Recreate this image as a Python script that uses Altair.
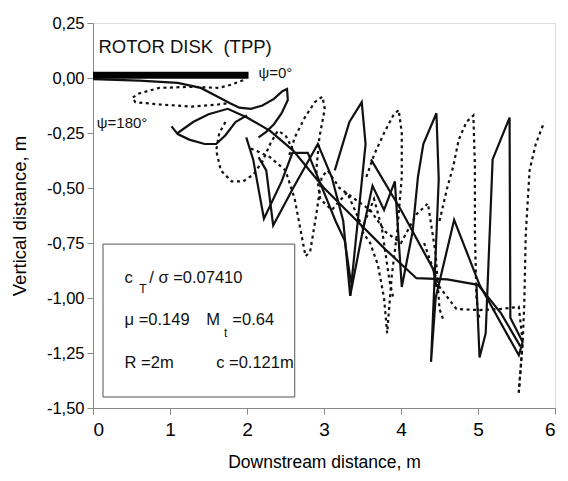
import altair as alt
import pandas as pd

FONT = "Liberation Sans, Arial, sans-serif"

# ---- data (x = downstream distance m, y = vertical distance m) ----
disk_x = [0.0, 2.02]
disk_y = [0.012, 0.012]

# solid curves
sA_x = [0.0, 0.6, 1.1, 1.4, 1.62, 1.78, 1.9, 2.05, 2.2, 2.35, 2.46, 2.52, 2.53, 2.45, 2.35, 2.25, 2.15]
sA_y = [-0.005, -0.012, -0.022, -0.045, -0.085, -0.115, -0.135, -0.14, -0.125, -0.095, -0.06, -0.05, -0.1, -0.16, -0.21, -0.245, -0.27]

sB_x = [1.02, 1.1, 1.25, 1.45, 1.6, 1.72, 1.85, 2.0]
sB_y = [-0.22, -0.255, -0.28, -0.30, -0.30, -0.26, -0.2, -0.17]

sC_x = [1.1, 1.3, 1.5, 1.75, 2.0, 2.3, 2.6, 3.0, 3.4, 3.8, 4.2, 4.6, 5.0, 5.3, 5.55]
sC_y = [-0.25, -0.2, -0.165, -0.14, -0.18, -0.24, -0.33, -0.5, -0.64, -0.78, -0.91, -0.915, -0.94, -1.07, -1.22]

sD_x = [1.99, 2.08, 2.22, 2.45, 2.59, 2.79, 3.0, 3.15, 3.27, 3.35]
sD_y = [-0.27, -0.37, -0.64, -0.47, -0.34, -0.34, -0.52, -0.65, -0.74, -0.93]

sE_x = [2.15, 2.25, 2.34, 2.6, 2.92, 3.1, 3.25, 3.34, 3.5, 3.63, 3.78, 3.92, 4.01, 4.15, 4.22, 4.29, 4.46, 4.49, 4.45, 4.39, 4.45, 4.69, 5.02, 5.53, 5.58]
sE_y = [-0.36, -0.42, -0.67, -0.5, -0.3, -0.45, -0.65, -0.99, -0.7, -0.49, -0.6, -0.47, -0.95, -0.7, -0.45, -0.3, -0.16, -0.46, -0.8, -1.29, -1.0, -0.645, -0.94, -1.26, -1.2]

sF_x = [3.14, 3.33, 3.49, 3.54, 3.34]
sF_y = [-0.42, -0.2, -0.11, -0.3, -0.99]

sG_x = [3.61, 4.0, 4.42, 4.46]
sG_y = [-0.37, -0.6, -0.87, -0.95]

sH_x = [4.98, 5.02, 5.1, 5.19, 5.41, 5.42, 5.58]
sH_y = [-0.94, -1.27, -1.16, -0.37, -0.18, -1.09, -1.2]

# dashed curves
d1_x = [1.95, 1.8, 1.63, 1.28, 0.86, 0.6, 0.51, 0.55, 0.86, 1.28, 1.63, 1.75]
d1_y = [-0.01, -0.03, -0.045, -0.04, -0.045, -0.07, -0.09, -0.11, -0.12, -0.13, -0.12, -0.115]

d2_x = [1.72, 1.64, 1.6, 1.66, 1.8, 1.95, 2.08, 2.2, 2.3, 2.4, 2.5, 2.6]
d2_y = [-0.2, -0.25, -0.33, -0.42, -0.47, -0.47, -0.44, -0.38, -0.3, -0.24, -0.26, -0.33]

d3_x = [2.05, 2.3, 2.5, 2.62, 2.7, 2.76, 2.82, 2.9, 2.97, 3.05, 3.2, 3.4, 3.6, 3.8, 4.0, 4.2, 4.35, 4.45, 4.5, 4.55]
d3_y = [-0.32, -0.36, -0.42, -0.55, -0.7, -0.81, -0.79, -0.62, -0.45, -0.42, -0.5, -0.55, -0.6, -0.7, -0.75, -0.62, -0.57, -0.8, -1.05, -1.1]

d4_x = [2.55, 2.62, 2.75, 2.88, 2.98, 3.01, 2.94, 2.9, 2.95, 3.1, 3.3, 3.5, 3.65, 3.75, 3.85, 3.9]
d4_y = [-0.35, -0.27, -0.18, -0.11, -0.085, -0.14, -0.27, -0.42, -0.55, -0.6, -0.52, -0.68, -0.55, -0.68, -0.92, -1.0]

d5_x = [3.55, 3.65, 3.78, 3.9, 3.97, 4.01, 4.01, 3.95, 3.88, 3.82, 3.78, 3.7, 3.6, 3.5]
d5_y = [-0.45, -0.35, -0.25, -0.17, -0.145, -0.25, -0.45, -0.7, -0.9, -1.16, -1.0, -0.85, -0.75, -0.7]

d6_x = [4.5, 4.6, 4.68, 4.75, 4.85, 4.94, 4.96, 4.96, 4.98, 5.02]
d6_y = [-0.65, -0.5, -0.4, -0.28, -0.2, -0.17, -0.4, -0.7, -1.0, -1.1]

d7_x = [4.3, 4.5, 4.72, 5.02, 5.3, 5.53, 5.58, 5.53]
d7_y = [-0.75, -0.95, -1.05, -1.055, -1.05, -1.04, -1.2, -1.43]

d8_x = [5.53, 5.58, 5.6, 5.62, 5.67, 5.75, 5.86]
d8_y = [-1.43, -1.2, -1.04, -0.71, -0.42, -0.3, -0.2]

solid = [(sA_x, sA_y), (sB_x, sB_y), (sC_x, sC_y), (sD_x, sD_y), (sE_x, sE_y),
         (sF_x, sF_y), (sG_x, sG_y), (sH_x, sH_y)]
dashed = [(d1_x, d1_y), (d2_x, d2_y), (d3_x, d3_y), (d4_x, d4_y), (d5_x, d5_y),
          (d6_x, d6_y), (d7_x, d7_y), (d8_x, d8_y)]

y_ticks = [0.25, 0.0, -0.25, -0.5, -0.75, -1.0, -1.25, -1.5]
x_ticks = [0, 1, 2, 3, 4, 5, 6]

box_x = [0.13, 2.62]
box_y = [-0.755, -1.45]

ann_text = ["ROTOR DISK \u00a0(TPP)", "\u03c8=0\u00b0", "\u03c8=180\u00b0",
            "c", "T", "/ \u03c3 =0.07410", "\u03bc =0.149", "M", "t", "=0.64",
            "R =2m", "c =0.121m"]
ann_x = [0.07, 2.15, 0.05, 0.41, 0.6, 0.73, 0.41, 1.47, 1.7, 1.81, 0.41, 1.6]
ann_y = [0.141, 0.025, -0.205, -0.907, -0.96, -0.907, -1.10, -1.10, -1.16, -1.10, -1.295, -1.295]
ann_size = [18.5, 15, 15, 16.5, 12, 16.5, 16.5, 16.5, 12, 16.5, 16.5, 16.5]

# ---- build tables ----
rows = []
for i, (xs_, ys_) in enumerate(solid):
    for j, (a, b) in enumerate(zip(xs_, ys_)):
        rows.append({"sid": f"s{i}", "o": j, "x": a, "y": b})
df_s = pd.DataFrame(rows)
rows = []
for i, (xs_, ys_) in enumerate(dashed):
    for j, (a, b) in enumerate(zip(xs_, ys_)):
        rows.append({"sid": f"d{i}", "o": j, "x": a, "y": b})
df_d = pd.DataFrame(rows)
df_disk = pd.DataFrame({"x": disk_x, "y": disk_y})
df_box = pd.DataFrame({"x": [box_x[0]], "x2": [box_x[1]], "y": [box_y[0]], "y2": [box_y[1]]})
df_ann = pd.DataFrame({"t": ann_text, "x": ann_x, "y": ann_y, "s": ann_size})

xs = alt.Scale(domain=[0, 6], nice=False, zero=False)
ys = alt.Scale(domain=[-1.5, 0.25], nice=False, zero=False)

ylab = "replace(replace(format(datum.value, '.2f'), '.', ','), '\u2212', '-')"

X = alt.X("x:Q", scale=xs, axis=alt.Axis(values=x_ticks, format="d", title="Downstream distance, m",
                                          grid=False, labelFontSize=19, titleFontSize=17.5,
                                          titleFontWeight="normal", tickSize=6,
                                          labelPadding=6, titlePadding=14))
Y = alt.Y("y:Q", scale=ys, axis=alt.Axis(values=y_ticks, title="Vertical distance, m", grid=False,
                                          labelExpr=ylab, labelFontSize=16.5, titleFontSize=18.5,
                                          titleFontWeight="normal", tickSize=6, labelPadding=3,
                                          titlePadding=17))

box = alt.Chart(df_box).mark_rect(fill="white", stroke="#555", strokeWidth=1).encode(
    x=alt.X("x:Q", scale=xs), x2="x2:Q", y=alt.Y("y:Q", scale=ys), y2="y2:Q")

lines_s = alt.Chart(df_s).mark_line(color="#111", strokeWidth=2.2).encode(
    x=X, y=Y, detail="sid:N", order="o:Q")
lines_d = alt.Chart(df_d).mark_line(color="#111", strokeWidth=2.2, strokeDash=[3, 3.5]).encode(
    x=alt.X("x:Q", scale=xs), y=alt.Y("y:Q", scale=ys), detail="sid:N", order="o:Q")
disk = alt.Chart(df_disk).mark_line(color="#000", strokeWidth=7, strokeCap="butt").encode(
    x=alt.X("x:Q", scale=xs), y=alt.Y("y:Q", scale=ys))
ann = alt.Chart(df_ann).mark_text(align="left", baseline="middle", font=FONT, color="#111").encode(
    x=alt.X("x:Q", scale=xs), y=alt.Y("y:Q", scale=ys), text="t:N",
    size=alt.Size("s:Q", scale=None, legend=None))

chart = alt.layer(lines_s, lines_d, disk, box, ann).properties(
    width=462, height=385,
    autosize=alt.AutoSizeParams(type="none"),
    padding={"left": 85, "top": 15, "right": 5, "bottom": 65},
).configure_view(stroke="#111", strokeWidth=1.5).configure_axis(
    domainColor="#111", domainWidth=1.5, tickColor="#111", tickWidth=1.5,
    labelFont=FONT, titleFont=FONT, labelColor="#111", titleColor="#111"
).configure(background="white")

chart.save("out.html", embed_options={"renderer": "svg", "actions": False})
